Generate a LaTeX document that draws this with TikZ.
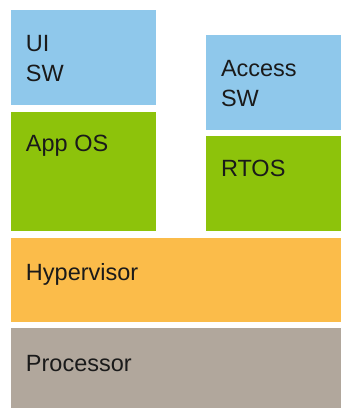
\documentclass[tikz,border=0pt]{standalone}
\usepackage{fontspec}
\setmainfont{Liberation Sans}
\definecolor{swblue}{HTML}{8FC8EB}
\definecolor{osgreen}{HTML}{8DC30B}
\definecolor{hvorange}{HTML}{FBBC4A}
\definecolor{cpugray}{HTML}{B1A79C}
\definecolor{inktext}{HTML}{1A1A1A}
\begin{document}
\begin{tikzpicture}[x=1pt,y=1pt,
  layer/.style={draw=none,rectangle,inner sep=0pt,outer sep=0pt,anchor=south west},
  caption/.style={anchor=base west,inner sep=0pt,outer sep=0pt,align=left,
    text=inktext,font=\fontsize{23.5}{30}\selectfont}]
\useasboundingbox (0,0) rectangle (341,408);
% software stack blocks
\node[layer,fill=swblue,  minimum width=145pt,minimum height=95pt]   (ui)     at (11,303)  {};
\node[layer,fill=osgreen, minimum width=145pt,minimum height=119.3pt] (appos)  at (11,177)  {};
\node[layer,fill=swblue,  minimum width=135pt,minimum height=95pt]   (access) at (206,278) {};
\node[layer,fill=osgreen, minimum width=135pt,minimum height=95.3pt] (rtos)   at (206,177) {};
\node[layer,fill=hvorange,minimum width=330pt,minimum height=84pt]   (hyp)    at (11,86.3) {};
\node[layer,fill=cpugray, minimum width=330pt,minimum height=79.7pt] (proc)   at (11,0)    {};
% labels; the base anchor of a two-line label sits on its last line
\node[caption] (uit)     at (26,326)    {UI\\SW};
\node[caption] (apposz)  at (26,256.3)  {App OS};
\node[caption] (accesst) at (221,301.3) {Access\\SW};
\node[caption] (rtost)   at (221,231.3) {RTOS};
\node[caption] (hypt)    at (26,128)    {Hypervisor};
\node[caption] (proct)   at (26,37)     {Processor};
\end{tikzpicture}
\end{document}
